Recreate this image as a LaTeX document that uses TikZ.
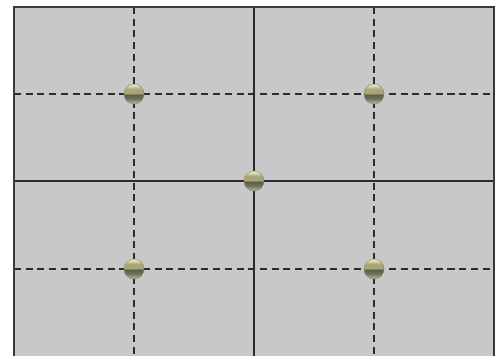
\documentclass[tikz,border=0pt]{standalone}
\usetikzlibrary{calc}
\definecolor{gdpanel}{HTML}{C8C8CA}
\definecolor{gdline}{HTML}{2B2B2B}
\definecolor{gdframe}{HTML}{3A3A3A}
\definecolor{brasstop}{HTML}{E8E6C4}
\definecolor{brassmid}{HTML}{A9A577}
\definecolor{brassdark}{HTML}{5B5F46}
\definecolor{brasslow}{HTML}{70755A}
\definecolor{brassbot}{HTML}{B2B597}
\pgfdeclareverticalshading{brass}{100bp}{color(0bp)=(brassbot); color(27bp)=(brassbot);
  color(38bp)=(brasslow); color(48bp)=(brassdark); color(52bp)=(brassmid);
  color(62bp)=(brassmid); color(73bp)=(brasstop); color(100bp)=(brasstop)}
\tikzset{
  panel/.style={fill=gdpanel,draw=none},
  frame/.style={draw=gdframe,line width=1.1pt},
  midline/.style={draw=gdline,line width=1pt},
  quarterline/.style={draw=gdline,line width=1.2pt,dash pattern=on 6pt off 4pt},
  knob/.style={circle,shading=brass,draw=brassdark!80,line width=0.3pt,
               minimum size=0.6cm,inner sep=0pt},
}
\begin{document}
\begin{tikzpicture}[x=0.03cm,y=-0.03cm]
    \useasboundingbox (0,0) rectangle (502,356);
    \coordinate (nw) at (14,7);
    \coordinate (se) at (494,356);
    \fill[panel] (nw) rectangle (se);
    % points where the balls sit
    \coordinate (ptl) at (134,94);
    \coordinate (ptr) at (374,94);
    \coordinate (pc)  at (254,181);
    \coordinate (pbl) at (134,269);
    \coordinate (pbr) at (374,269);
    % grid lines
    \draw[quarterline] (ptl |- nw) -- (ptl |- se);
    \draw[quarterline] (ptr |- nw) -- (ptr |- se);
    \draw[quarterline] (ptl -| nw) -- (ptl -| se);
    \draw[quarterline] (pbl -| nw) -- (pbl -| se);
    \draw[midline] (pc |- nw) -- (pc |- se);
    \draw[midline] (pc -| nw) -- (pc -| se);
    \draw[frame] (nw |- se) -- (nw) -- (se |- nw) -- (se);
    % balls
    \node[knob] (tl) at (ptl) {};
    \node[knob] (tr) at (ptr) {};
    \node[knob] (c)  at (pc)  {};
    \node[knob] (bl) at (pbl) {};
    \node[knob] (br) at (pbr) {};
  \end{tikzpicture}
\end{document}
